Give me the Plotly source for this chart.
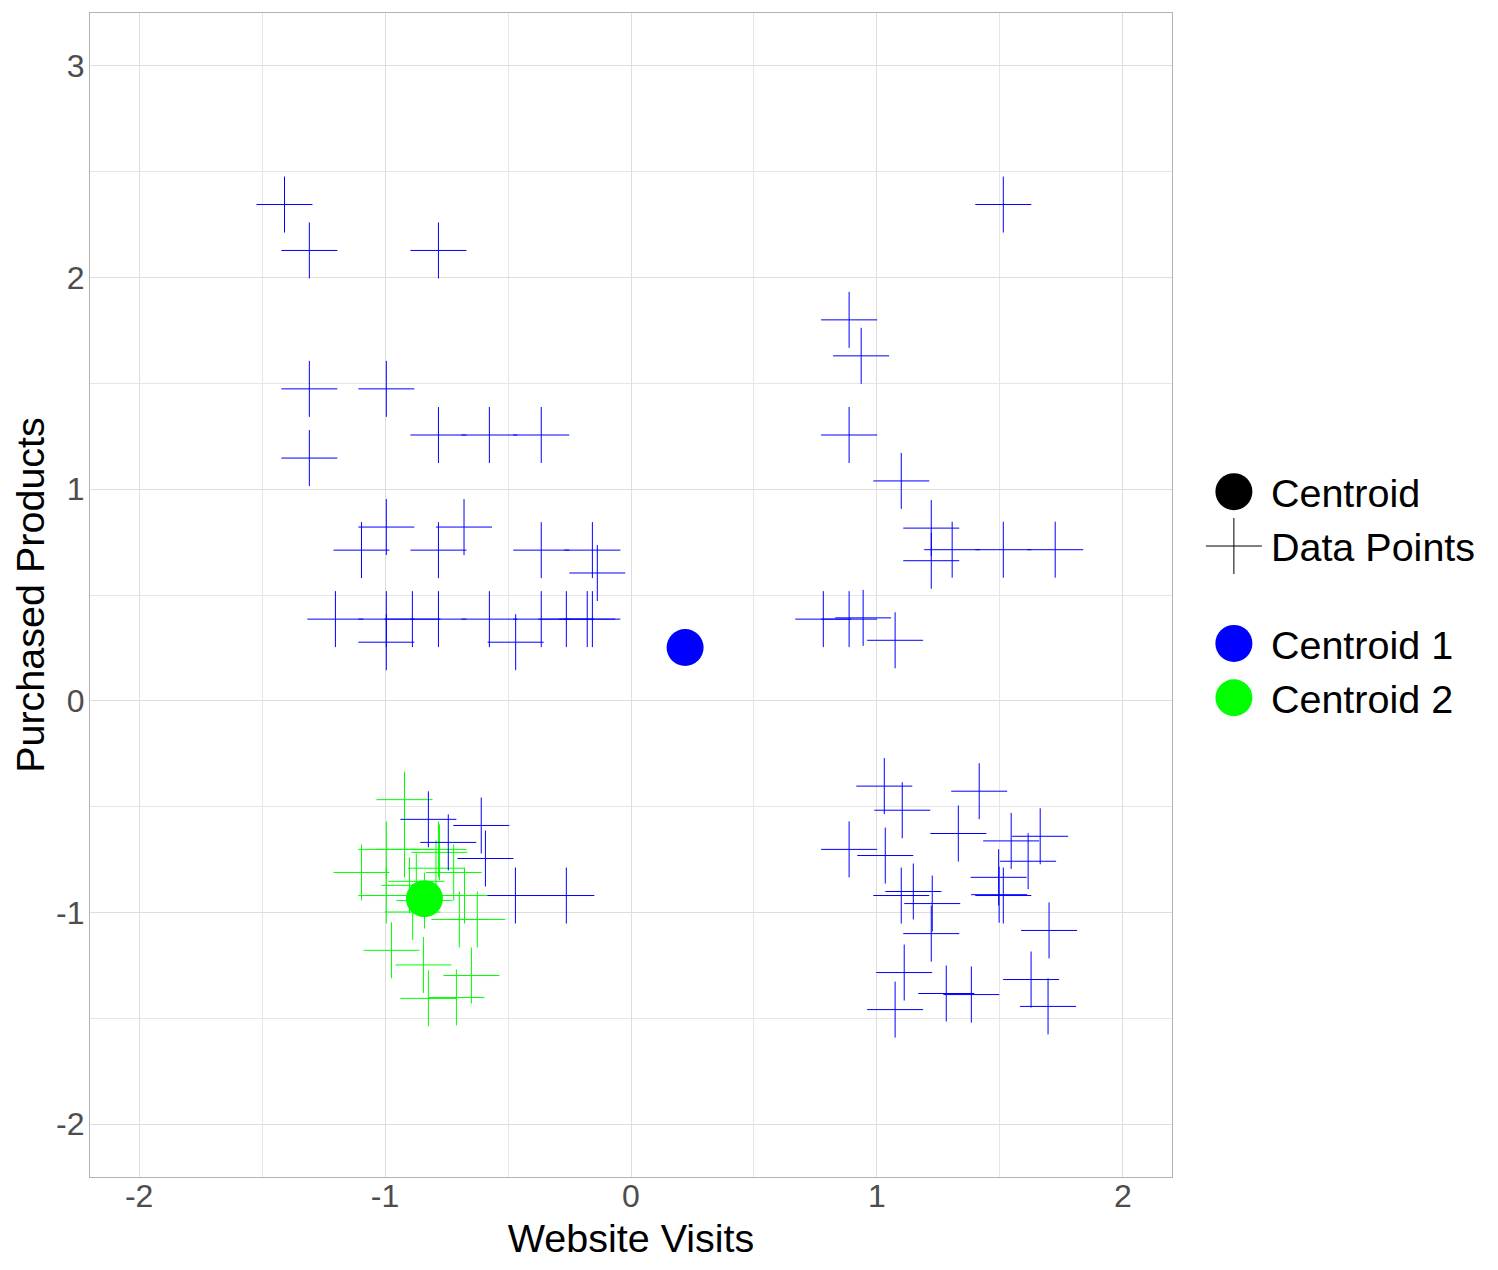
import plotly.graph_objects as go

# cluster 1 points (blue)
c1_x = [-1.409, -1.308, -0.783, -1.308, -0.995, -0.783, -0.576, -0.365, -1.308,
        -0.995, -1.096, -0.679, -0.783, -0.365, -0.157, -0.137,
        -1.202, -0.995, -0.889, -0.783, -0.576, -0.365, -0.263, -0.178, -0.157,
        -0.995, -0.469,
        1.514, 0.887, 0.936, 0.887,
        1.099, 1.221, 1.221, 1.306, 1.514, 1.725,
        0.782, 0.887, 0.944, 1.074,
        1.030, 1.103, 1.416, 0.887, 1.034, 1.331, 1.546, 1.664, 1.615, 1.495,
        1.497, 1.514, 1.099, 1.148, 1.225, 1.221, 1.700, 1.111, 1.074, 1.282,
        1.384, 1.627, 1.696,
        -0.824, -0.743, -0.609, -0.592, -0.470, -0.263]
c1_y = [2.345, 2.128, 2.128, 1.474, 1.474, 1.256, 1.256, 1.256, 1.147,
        0.821, 0.712, 0.821, 0.712, 0.712, 0.712, 0.604,
        0.386, 0.386, 0.386, 0.386, 0.386, 0.386, 0.386, 0.386, 0.386,
        0.277, 0.277,
        2.345, 1.800, 1.630, 1.256,
        1.039, 0.816, 0.662, 0.714, 0.714, 0.714,
        0.386, 0.386, 0.392, 0.286,
        -0.403, -0.517, -0.427, -0.702, -0.731, -0.627, -0.662, -0.640, -0.758, -0.834,
        -0.916, -0.920, -0.920, -0.901, -0.958, -1.100, -1.085, -1.284, -1.459, -1.383,
        -1.388, -1.317, -1.444,
        -0.560, -0.669, -0.589, -0.745, -0.920, -0.920]

# cluster 2 points (green)
c2_x = [-0.921, -0.921, -0.995, -0.783, -0.779, -1.096, -0.995, -0.793, -0.721,
        -0.873, -0.901, -0.888, -0.677, -0.840, -0.698, -0.625, -0.974, -0.844,
        -0.649, -0.824, -0.710]
c2_y = [-0.467, -0.702, -0.702, -0.702, -0.716, -0.811, -0.920, -0.791, -0.811,
        -0.853, -0.872, -0.998, -0.920, -0.944, -1.033, -1.033, -1.179, -1.248,
        -1.298, -1.406, -1.402]

cent_names = ["Centroid 1", "Centroid 2"]
cent_x = [0.22, -0.84]
cent_y = [0.252, -0.935]
cent_colors = ["#0000FF", "#00FF00"]

x_ticks = [-2, -1, 0, 1, 2]
y_ticks = [-2, -1, 0, 1, 2, 3]

FONT = "Liberation Sans, Arial, sans-serif"

fig = go.Figure()

# legend-only entries for the shape legend
fig.add_trace(go.Scatter(x=[None], y=[None], mode="markers", name="Centroid",
                         legendgroup="shape",
                         marker=dict(symbol="circle", size=37, color="black", line=dict(width=0))))
fig.add_trace(go.Scatter(x=[None], y=[None], mode="markers", name="Data Points",
                         legendgroup="shape",
                         marker=dict(symbol="cross-thin", size=40, line=dict(width=1, color="black"))))

# data points
for xs, ys, col in [(c2_x, c2_y, "#00FF00"), (c1_x, c1_y, "#0000FF")]:
    fig.add_trace(go.Scatter(x=xs, y=ys, mode="markers", showlegend=False,
                             hoverinfo="x+y",
                             marker=dict(symbol="cross-thin", size=40,
                                         line=dict(width=1, color=col))))

# centroids
for n, cx, cy, col in zip(cent_names, cent_x, cent_y, cent_colors):
    fig.add_trace(go.Scatter(x=[cx], y=[cy], mode="markers", name=n,
                             legendgroup="colour",
                             marker=dict(symbol="circle", size=37, color=col, line=dict(width=0))))

axis_common = dict(
    showgrid=True, gridcolor="#DEDEDE", gridwidth=1,
    minor=dict(dtick=0.5, showgrid=True, gridcolor="#E6E6E6", gridwidth=0.7),
    zeroline=False, ticks="",
    showline=True, mirror=True, linecolor="#B3B3B3", linewidth=1.3,
    tickfont=dict(size=32, color="#4D4D4D", family=FONT),
)

fig.update_layout(
    width=1490, height=1262,
    margin=dict(l=82, r=326, t=5, b=93),
    plot_bgcolor="white", paper_bgcolor="white",
    font=dict(family=FONT, color="black"),
    xaxis=dict(range=[-2.2, 2.2],
               tickvals=x_ticks, ticktext=[str(v) for v in x_ticks],
               ticklabelstandoff=-10,
               title=dict(text="Website Visits", font=dict(size=39.5), standoff=11),
               **axis_common),
    yaxis=dict(range=[-2.25, 3.25],
               tickvals=y_ticks, ticktext=[str(v) for v in y_ticks],
               ticklabelstandoff=-2,
               title=dict(text="Purchased Products", font=dict(size=39.5), standoff=0),
               **axis_common),
    legend=dict(x=1.023, y=0.5, xanchor="left", yanchor="middle",
                font=dict(size=39.5, family=FONT, color="black"),
                itemwidth=64,
                traceorder="grouped", tracegroupgap=43,
                bgcolor="rgba(0,0,0,0)"),
)

# plotly caps legend symbols at 16px; scale them up to the plotted marker size
legend_js = """
var gd = document.getElementById('{plot_id}');
function growLegend() {
    gd.querySelectorAll('g.legendpoints path.scatterpts').forEach(function(p) {
        if (p.dataset.orig === undefined) p.dataset.orig = p.getAttribute('transform') || '';
        var s = (p.getAttribute('d') || '').indexOf('A') >= 0 ? 37 / 16 : 2.5;
        p.setAttribute('transform', p.dataset.orig + ' scale(' + s + ')');
        p.setAttribute('vector-effect', 'non-scaling-stroke');
    });
}
growLegend();
gd.on('plotly_afterplot', growLegend);
"""

fig.write_html("out.html", post_script=legend_js)
